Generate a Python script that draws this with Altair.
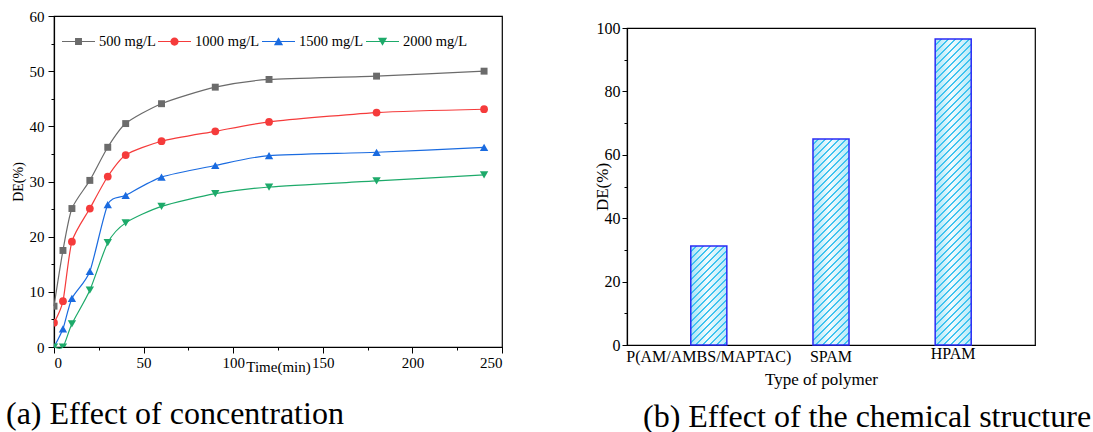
import altair as alt
import pandas as pd

FONT = "Liberation Serif"

# ---------------- data ----------------
time_min = [0, 5, 10, 20, 30, 40, 60, 90, 120, 180, 240]
series_names = ["500 mg/L", "1000 mg/L", "1500 mg/L", "2000 mg/L"]
de_500 = [7.4, 17.5, 25.1, 30.2, 36.2, 40.5, 44.1, 47.1, 48.5, 49.1, 50.0]
de_1000 = [4.4, 8.3, 19.1, 25.1, 30.9, 34.8, 37.3, 39.1, 40.8, 42.5, 43.1]
de_1500 = [0.0, 3.3, 8.8, 13.7, 25.8, 27.5, 30.8, 32.9, 34.7, 35.3, 36.2]
de_2000 = [0.0, 0.0, 4.2, 10.3, 18.9, 22.5, 25.5, 27.8, 29.0, 30.1, 31.2]

polymers = ["P(AM/AMBS/MAPTAC)", "SPAM", "HPAM"]
polymer_de = [31.2, 65.0, 96.5]

# ---------------- styles ----------------
colors = ["#6b6b6b", "#f53b3b", "#1a6be0", "#1daa6a"]
marker_shapes = ["square", "circle", "triangle-up", "triangle-down"]
marker_sizes = [48, 60, 70, 70]
LINE = "M-1,-0.036H1V0.036H-1Z"
legend_paths = [
    LINE + "M-0.21,-0.21H0.21V0.21H-0.21Z",
    LINE + "M-0.25,0A0.25,0.25,0,1,1,0.25,0A0.25,0.25,0,1,1,-0.25,0Z",
    LINE + "M0,-0.26L0.28,0.22H-0.28Z",
    LINE + "M0,0.26L-0.28,-0.22H0.28Z",
]

rows = []
for name, vals in zip(series_names, [de_500, de_1000, de_1500, de_2000]):
    for t, v in zip(time_min, vals):
        rows.append({"series": name, "time": t, "de": v})
df = pd.DataFrame(rows)

LW, LH = 448, 331
color_scale = alt.Scale(domain=series_names, range=colors)

x_axis = alt.Axis(
    values=list(range(0, 251, 25)),
    labelExpr="datum.value % 50 === 0 ? datum.label : ''",
    tickSize={"condition": {"test": "datum.value % 50 === 0", "value": 6}, "value": 3},
    labelFontSize=15, labelPadding=2,
    title="Time(min)", titleFontSize=15, titlePadding=-11,
)
y_axis = alt.Axis(
    values=list(range(0, 61, 5)),
    labelExpr="datum.value % 10 === 0 ? datum.label : ''",
    tickSize={"condition": {"test": "datum.value % 10 === 0", "value": 6}, "value": 3},
    labelFontSize=15, labelPadding=4,
    title="DE(%)", titleFontSize=14, titlePadding=4,
)
xs = alt.Scale(domain=[0, 250], nice=False)
ys = alt.Scale(domain=[0, 60], nice=False)
X = alt.X("time:Q", scale=xs, axis=x_axis)
Y = alt.Y("de:Q", scale=ys, axis=y_axis)

line_layers = []
point_layers = []
for name, col, shp, sz in zip(series_names, colors, marker_shapes, marker_sizes):
    sub = alt.Chart(df).transform_filter(alt.datum.series == name)
    line_layers.append(
        sub.mark_line(interpolate="cardinal", tension=0.3, strokeWidth=1.2, color=col).encode(x=X, y=Y)
    )
    point_layers.append(
        sub.mark_point(filled=True, opacity=1, clip=True, size=sz, shape=shp, color=col)
        .encode(x=X, y=Y)
    )

leg = alt.Legend(
    title=None, orient="none", legendX=8, legendY=9, direction="horizontal",
    symbolSize=1089, symbolStrokeWidth=0, symbolOpacity=1,
    labelFont=FONT, labelFontSize=14.5, labelColor="black", labelOffset=4,
    columnPadding=2, padding=0,
)
legend_layer = alt.Chart(df).transform_filter("datum.time < 0").mark_point(filled=True).encode(
    x=X, y=Y,
    color=alt.Color("series:N", scale=color_scale, legend=leg),
    shape=alt.Shape("series:N", scale=alt.Scale(domain=series_names, range=legend_paths), legend=leg),
)

CAP = 32
left = alt.layer(*line_layers, *point_layers, legend_layer).properties(
    width=LW, height=LH,
    title=alt.TitleParams("(a) Effect of concentration", orient="bottom", anchor="start",
                          frame="group", dx=-48, offset=25, font=FONT, fontSize=CAP,
                          fontWeight="normal", color="black"),
)

# ---------------- right chart ----------------
RW, RH = 408, 317
bdf = pd.DataFrame({"polymer": polymers, "de": polymer_de})
bx = alt.Scale(domain=polymers, paddingInner=0.705, paddingOuter=0.522)
by = alt.Scale(domain=[0, 100], nice=False)
bar_w = RW / (3 - 0.705 + 2 * 0.522) * (1 - 0.705)

bx_axis = alt.Axis(
    ticks=False, labelAngle=0, labelFontSize=16,
    labelPadding={"condition": {"test": "datum.value === 'HPAM'", "value": 0}, "value": 3},
    title="Type of polymer", titleFontSize=17, titlePadding=7, titleX=194,
)
by_axis = alt.Axis(
    values=list(range(0, 101, 10)),
    labelExpr="datum.value % 20 === 0 ? datum.label : ''",
    tickSize={"condition": {"test": "datum.value % 20 === 0", "value": 5}, "value": 3},
    labelFontSize=16, labelPadding=2,
    title="DE(%)", titleFontSize=17, titlePadding=-15,
)
BX = alt.X("polymer:N", sort=polymers, scale=bx, axis=bx_axis)
BY = alt.Y("de:Q", scale=by, axis=by_axis)

base_fill = alt.LinearGradient(
    gradient="linear", x1=0, y1=0, x2=1, y2=0,
    stops=[alt.GradientStop(offset=0, color="#a6e4f6"),
           alt.GradientStop(offset=0.45, color="#f2fbfe"),
           alt.GradientStop(offset=1, color="#b6eaf9")],
)
bars_base = alt.Chart(bdf).mark_bar(fill=base_fill, strokeWidth=0).encode(x=BX, y=BY)

stripe_layers = []
CLEAR = "rgba(62,195,240,0)"
DARK = "#3ec3f0"
for name, val in zip(polymers, polymer_de):
    H = val / 100 * RH
    span = bar_w + H
    L = (bar_w ** 2 + H ** 2) / span
    period = 7.0
    dark = 2.2
    stops = []
    k = 0
    while k * period < span:
        s = min(k * period / span, 1)
        m = min((k * period + period - dark) / span, 1)
        e = min((k + 1) * period / span, 1)
        stops += [alt.GradientStop(offset=s, color=CLEAR), alt.GradientStop(offset=m, color=CLEAR),
                  alt.GradientStop(offset=m, color=DARK), alt.GradientStop(offset=e, color=DARK)]
        k += 1
    grad = alt.LinearGradient(gradient="linear", x1=0, y1=0, x2=bar_w / L, y2=H / L, stops=stops)
    stripe_layers.append(
        alt.Chart(bdf).transform_filter(alt.datum.polymer == name)
        .mark_bar(fill=grad, stroke="#2b2bf5", strokeWidth=1.5)
        .encode(x=BX, y=BY)
    )

right_bars = alt.layer(bars_base, *stripe_layers).properties(
    width=RW, height=RH,
    title=alt.TitleParams("(b) Effect of the chemical structure", orient="bottom", anchor="start",
                          frame="group", dx=16, offset=15, font=FONT, fontSize=CAP,
                          fontWeight="normal", color="black"),
)

spacer = alt.Chart(pd.DataFrame({"v": [0]})).mark_point(opacity=0).encode(
    x=alt.value(0), y=alt.value(0)
).properties(width=RW, height=1, view=alt.ViewBackground(strokeOpacity=0))

right = alt.vconcat(spacer, right_bars, spacing=0)

chart = alt.hconcat(left, right, spacing=88).properties(
    padding={"left": 5, "top": 8, "right": 0, "bottom": 0}
).configure_view(
    stroke="black", strokeWidth=1.2
).configure_axis(
    grid=False, domainColor="black", domainWidth=1.2, tickColor="black", tickWidth=1,
    labelColor="black", titleColor="black", labelFont=FONT, titleFont=FONT,
    titleFontWeight="normal",
)

chart.save("out.html", embed_options={"renderer": "svg", "actions": False})
